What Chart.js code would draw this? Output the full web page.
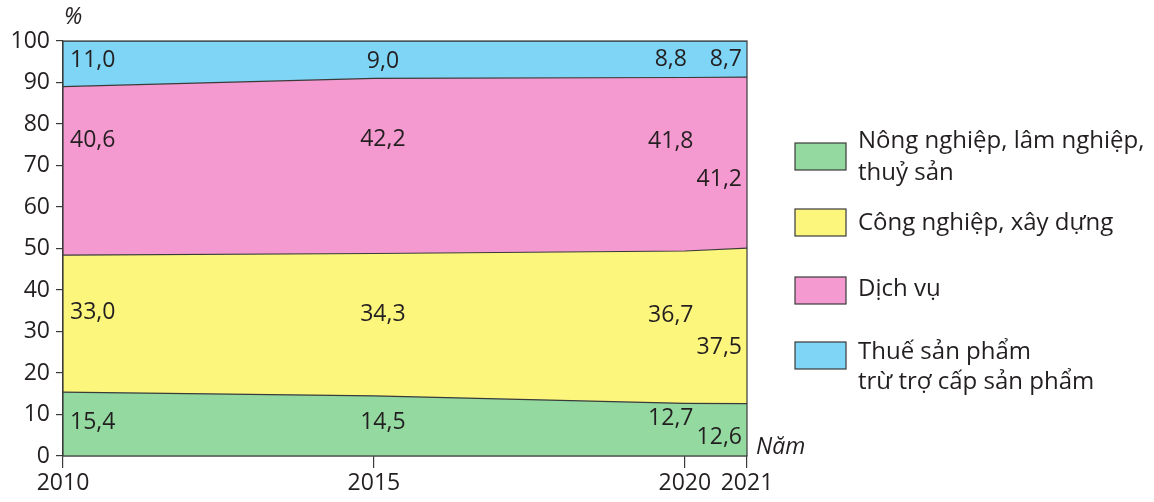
<!DOCTYPE html>
<html>
<head>
<meta charset="utf-8">
<script src="https://cdn.jsdelivr.net/npm/chart.js@4"></script>
<style>
  body { margin: 0; background: #fff; }
</style>
</head>
<body>
<canvas id="myChart" width="1154" height="502"></canvas>
<script>
var years = [2010, 2015, 2020, 2021];
var agri = [15.4, 14.5, 12.7, 12.6];
var industry = [33.0, 34.3, 36.7, 37.5];
var services = [40.6, 42.2, 41.8, 41.2];
var tax = [11.0, 9.0, 8.8, 8.7];
var yTicks = [0, 10, 20, 30, 40, 50, 60, 70, 80, 90, 100];
var seriesNames = [
  ['Nông nghiệp, lâm nghiệp,', 'thuỷ sản'],
  ['Công nghiệp, xây dựng'],
  ['Dịch vụ'],
  ['Thuế sản phẩm', 'trừ trợ cấp sản phẩm']
];

var colors = ['rgb(147, 217, 160)', 'rgb(253, 246, 125)', 'rgb(245, 154, 208)', 'rgb(126, 213, 245)'];
var lineColor = '#3a3a3a';
var textColor = '#231f20';
var FONT = '"Open Sans", sans-serif';

function pts(arr) {
  var out = [];
  for (let i = 0; i < years.length; i++) {
    out.push({x: years[i], y: arr[i]});
  }
  return out;
}

var seriesData = [agri, industry, services, tax];

// where in each band the value label sits (fraction of band height), per year
var labelFrac = [
  [0.53, 0.58, 0.68, 0.58],
  [0.55, 0.57, 0.65, 0.44],
  [0.72, 0.58, 0.63, 0.5],
  [0.36, 0.36, 0.40, 0.5]
];

const labelsPlugin = {
  id: 'labels',
  afterDatasetsDraw(chart) {
    const c = chart.ctx;
    const xs = chart.scales.x, ys = chart.scales.y;
    const a = chart.chartArea;
    c.save();
    // frame around plot
    c.strokeStyle = lineColor;
    c.lineWidth = 1.2;
    c.strokeRect(a.left, a.top, a.right - a.left, a.bottom - a.top);

    c.font = '23px ' + FONT;
    c.fillStyle = textColor;
    c.textBaseline = 'middle';
    for (let j = 0; j < years.length; j++) {
      let base = 0;
      for (let i = 0; i < seriesData.length; i++) {
        const v = seriesData[i][j];
        const y = ys.getPixelForValue(base + v * labelFrac[j][i]);
        let x = xs.getPixelForValue(years[j]);
        if (j == 0) { c.textAlign = 'left'; x += 7; }
        else if (j == 1) { c.textAlign = 'center'; x += 9; }
        else if (j == 2) { c.textAlign = 'center'; x -= 14; }
        else { c.textAlign = 'right'; x -= 5; }
        c.fillText(v.toFixed(1).replace('.', ','), x, y);
        base += v;
      }
    }

    // axis titles
    c.font = 'italic 23px ' + FONT;
    c.textAlign = 'left';
    c.fillText('%', a.left + 1, 17);
    c.fillText('Năm', a.right + 9, a.bottom - 9);

    // legend
    const boxX = 795, boxW = 51, boxH = 27;
    const boxY = [143, 209, 277, 342];
    const textY = [[141, 173], [223], [289], [352, 382]];
    c.font = '24px ' + FONT;
    for (let i = 0; i < seriesNames.length; i++) {
      c.fillStyle = colors[i];
      c.fillRect(boxX, boxY[i], boxW, boxH);
      c.strokeStyle = lineColor;
      c.lineWidth = 1.2;
      c.strokeRect(boxX, boxY[i], boxW, boxH);
      c.fillStyle = textColor;
      c.textAlign = 'left';
      for (let k = 0; k < seriesNames[i].length; k++) {
        c.fillText(seriesNames[i][k], 858, textY[i][k]);
      }
    }
    c.restore();
  }
};

const ctx = document.getElementById('myChart');

new Chart(ctx, {
  type: 'line',
  data: {
    datasets: seriesData.map(function (arr, i) {
      return {
        label: seriesNames[i].join(' '),
        data: pts(arr),
        backgroundColor: colors[i],
        borderColor: lineColor,
        borderWidth: 1.2,
        fill: i == 0 ? 'origin' : '-1',
        pointRadius: 0,
        tension: 0
      };
    })
  },
  options: {
    responsive: false,
    animation: false,
    devicePixelRatio: 1,
    layout: { padding: { left: 0, top: 41, right: 407, bottom: 0 } },
    plugins: {
      legend: { display: false },
      tooltip: { enabled: false }
    },
    scales: {
      x: {
        type: 'linear',
        min: 2010,
        max: 2021,
        afterBuildTicks: function (s) { s.ticks = years.map(function (y) { return {value: y}; }); },
        afterFit: function (s) { s.height = 46; },
        ticks: {
          font: { family: FONT, size: 23 },
          color: textColor,
          padding: 2,
          maxRotation: 0,
          callback: function (v) { return String(v); }
        },
        grid: { drawOnChartArea: false, tickLength: 12, color: lineColor, lineWidth: 1.2 },
        border: { color: lineColor, width: 1.2 }
      },
      y: {
        stacked: true,
        min: 0,
        max: 100,
        afterBuildTicks: function (s) { s.ticks = yTicks.map(function (v) { return {value: v}; }); },
        afterFit: function (s) { s.width = 63; },
        ticks: {
          font: { family: FONT, size: 23 },
          color: textColor,
          padding: 6
        },
        grid: { drawOnChartArea: false, tickLength: 7, color: lineColor, lineWidth: 1.2 },
        border: { color: lineColor, width: 1.2 }
      }
    }
  },
  plugins: [labelsPlugin]
});
</script>
</body>
</html>
